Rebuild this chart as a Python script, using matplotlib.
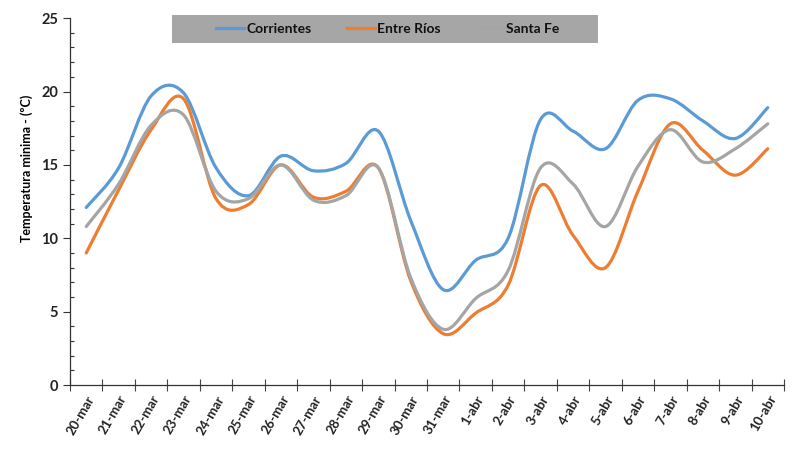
import matplotlib
matplotlib.use("Agg")
import matplotlib.pyplot as plt
from matplotlib.path import Path
from matplotlib.patches import PathPatch, Rectangle
from matplotlib.lines import Line2D
from matplotlib.ticker import MultipleLocator
import numpy as np

fechas = ["20-mar", "21-mar", "22-mar", "23-mar", "24-mar", "25-mar", "26-mar",
          "27-mar", "28-mar", "29-mar", "30-mar", "31-mar", "1-abr", "2-abr",
          "3-abr", "4-abr", "5-abr", "6-abr", "7-abr", "8-abr", "9-abr", "10-abr"]
corrientes = [12.1, 14.8, 19.7, 19.9, 14.8, 12.9, 15.6, 14.6, 15.1, 17.3, 11.2,
              6.5, 8.5, 10.0, 18.1, 17.3, 16.1, 19.4, 19.5, 18.0, 16.8, 18.9]
entre_rios = [9.0, 13.3, 17.4, 19.5, 12.7, 12.3, 15.0, 12.8, 13.2, 14.8, 7.1,
              3.5, 4.9, 6.8, 13.6, 10.2, 8.0, 13.2, 17.8, 16.0, 14.3, 16.1]
santa_fe = [10.8, 13.7, 17.7, 18.4, 13.2, 12.7, 15.0, 12.6, 12.9, 14.8, 7.3,
            3.8, 5.9, 7.8, 14.8, 13.7, 10.8, 14.9, 17.4, 15.2, 16.1, 17.8]

series = [("Corrientes", corrientes, "#5b9bd5"),
          ("Entre Ríos", entre_rios, "#ed7d31"),
          ("Santa Fe", santa_fe, "#a5a5a5")]

plt.rcParams['font.family'] = ['Lato', 'DejaVu Sans']


def smooth_path(x, y):
    # bezier por los puntos, como la linea suavizada de excel
    pts = np.column_stack([x, y]).astype(float)
    n = len(pts)
    verts = [pts[0]]
    codes = [Path.MOVETO]
    for i in range(n - 1):
        p0 = pts[max(i - 1, 0)]
        p1 = pts[i]
        p2 = pts[i + 1]
        p3 = pts[min(i + 2, n - 1)]
        c1 = p1 + (p2 - p0) / 6
        c2 = p2 - (p3 - p1) / 6
        verts += [c1, c2, p2]
        codes += [Path.CURVE4] * 3
    return Path(verts, codes)


fig = plt.figure(figsize=(8, 4.53), dpi=100)
ax = fig.add_axes([0.0875, 0.150, 0.8925, 0.81])

x = np.arange(len(fechas))
handles = []
for nombre, vals, color in series:
    patch = PathPatch(smooth_path(x, vals), facecolor="none", edgecolor=color,
                      lw=2.3, capstyle="round", joinstyle="round")
    ax.add_patch(patch)
    handles.append(Line2D([], [], color=color, lw=2.3, label=nombre))

ax.set_xlim(-0.5, len(fechas) - 0.5)
ax.set_ylim(0, 25)
ax.yaxis.set_major_locator(MultipleLocator(5))
ax.yaxis.set_minor_locator(MultipleLocator(1))
ax.set_xticks(np.arange(len(fechas) + 1) - 0.5)
ax.set_xticklabels([])
ax.set_xticks(x, minor=True)
ax.set_xticklabels(fechas, minor=True, rotation=60, ha="right",
                   rotation_mode="anchor", fontsize=9.5, fontweight="bold", color="#222222")
ax.tick_params(axis="x", which="major", direction="inout", length=8, width=0.8, color="#444444")
ax.tick_params(axis="x", which="minor", length=0, pad=6)
ax.tick_params(axis="y", which="major", direction="out", length=5, width=0.8,
               labelsize=10.5, color="#333333")
ax.tick_params(axis="y", which="minor", direction="in", length=3, width=0.8, color="#333333")
for lab in ax.get_yticklabels():
    lab.set_fontweight("bold")
    lab.set_color("#222222")

for s in ["top", "right"]:
    ax.spines[s].set_visible(False)
for s in ["left", "bottom"]:
    ax.spines[s].set_color("#333333")
    ax.spines[s].set_linewidth(0.9)

ax.set_ylabel("Temperatura minima - (ºC)", fontsize=9, fontweight="bold")
ax.yaxis.set_label_coords(-0.052, 0.59)

# caja gris de la leyenda
fig.patches.append(Rectangle((172 / 800, 1 - 43 / 453), 426 / 800, 28 / 453,
                             transform=fig.transFigure, facecolor="#a6a6a6",
                             edgecolor="none", zorder=3))
leg = fig.legend(handles=handles, loc="center", bbox_to_anchor=(0.485, 0.936),
                 ncol=3, frameon=False, handlelength=2.0,
                 handletextpad=0.2, columnspacing=2.5, borderpad=0.3,
                 prop={"family": "Lato", "weight": "bold", "size": 10})
leg.set_zorder(4)
for t in leg.get_texts():
    t.set_color("#111111")

fig.savefig("out.png", dpi=100, facecolor="white")
